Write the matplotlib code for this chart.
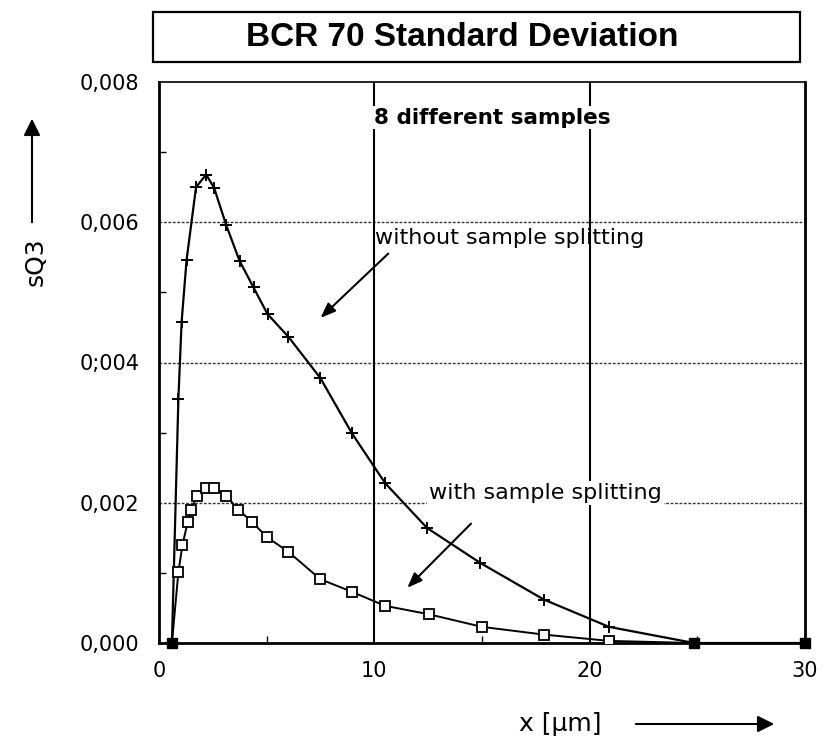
import matplotlib
matplotlib.use("Agg")
import matplotlib.pyplot as plt
from matplotlib.patches import Rectangle, FancyArrowPatch
from matplotlib.ticker import FixedLocator

# ---- data ----
title = "BCR 70 Standard Deviation"
x_without = [0.9, 1.05, 1.28, 1.72, 2.19, 2.56, 3.12, 3.74, 4.39, 5.04, 6.0,
             7.49, 8.96, 10.5, 12.45, 14.93, 17.87, 20.9]
y_without = [0.00348, 0.00458, 0.00546, 0.0065, 0.00668, 0.00649, 0.00596,
             0.00545, 0.00507, 0.00469, 0.00437, 0.00378, 0.00299, 0.00228,
             0.00164, 0.00114, 0.00062, 0.00023]
x_with = [0.9, 1.09, 1.33, 1.47, 1.78, 2.19, 2.57, 3.12, 3.69, 4.34, 5.01,
          6.01, 7.49, 8.96, 10.5, 12.53, 15.0, 17.87, 20.9]
y_with = [0.00101, 0.0014, 0.00172, 0.00189, 0.0021, 0.00221, 0.00221,
          0.0021, 0.0019, 0.00172, 0.00151, 0.0013, 0.00091, 0.00073,
          0.00053, 0.00041, 0.00023, 0.00012, 0.00003]
x_ends = [0.6, 24.85, 30.0]
y_ends = [0.0, 0.0, 0.0]
x_ticks = [0, 10, 20, 30]
x_ticklabels = ["0", "10", "20", "30"]
y_ticks = [0.0, 0.002, 0.004, 0.006, 0.008]
y_ticklabels = ["0,000", "0,002", "0;004", "0,006", "0,008"]

plt.rcParams['font.family'] = ['DejaVu Sans']

W, H = 833, 743
fig = plt.figure(figsize=(W / 100, H / 100), dpi=100)
L, R, T, B = 159, 805, 82, 643
ax = fig.add_axes([L / W, 1 - B / H, (R - L) / W, (B - T) / H])
ax.set_xlim(0, 30)
ax.set_ylim(0, 0.008)

# grid
for yv in [0.002, 0.004, 0.006]:
    ax.axhline(yv, color="#333333", lw=1.0, ls=(0, (2, 1.2)), zorder=1)
for xv in [10, 20]:
    ax.axvline(xv, color="black", lw=1.5, zorder=1)

# curves (full series incl. end points)
ax.plot([x_ends[0]] + x_without + x_ends[1:], [y_ends[0]] + y_without + y_ends[1:],
        color="black", lw=1.6, zorder=3)
ax.plot(x_without, y_without, ls="none", marker="+", ms=8, mew=1.4,
        color="black", zorder=4)
ax.plot([x_ends[0]] + x_with + [x_ends[1]], [y_ends[0]] + y_with + [y_ends[1]],
        color="black", lw=1.4, zorder=3)
ax.plot(x_with, y_with, ls="none", marker="s", ms=7, mew=1.3,
        mfc="white", mec="black", zorder=4)
ax.plot(x_ends, y_ends, ls="none", marker="s", ms=7, color="black", zorder=5,
        clip_on=False)

# spines / ticks
for s in ["left", "bottom", "right"]:
    ax.spines[s].set_linewidth(2.0)
ax.spines["top"].set_linewidth(1.2)
ax.set_xticks(x_ticks)
ax.set_xticklabels(x_ticklabels, fontsize=15)
ax.set_yticks(y_ticks)
ax.set_yticklabels(y_ticklabels, fontsize=15)
ax.xaxis.set_minor_locator(FixedLocator([5, 15, 25]))
ax.yaxis.set_minor_locator(FixedLocator([0.001, 0.003, 0.005, 0.007]))
ax.tick_params(axis="both", which="major", length=0)
ax.tick_params(axis="x", which="major", pad=13)
ax.tick_params(axis="y", which="major", pad=14)
ax.tick_params(axis="both", which="minor", direction="in", length=5, width=1)

# annotations
ax.text(10.0, 0.00749, "8 different samples", fontsize=15.5, fontweight="bold",
        va="center", ha="left", zorder=6,
        bbox=dict(facecolor="white", edgecolor="none", pad=1))
ax.text(10.05, 0.00578, "without sample splitting", fontsize=16,
        va="center", ha="left", zorder=6)
ax.text(12.56, 0.00214, "with sample splitting", fontsize=16,
        va="center", ha="left", zorder=6,
        bbox=dict(facecolor="white", edgecolor="none", pad=1.5))
ax.annotate("", xy=(7.41, 0.00461), xytext=(10.74, 0.00558),
            arrowprops=dict(arrowstyle="-|>,head_length=0.9,head_width=0.35",
                            color="black", lw=1.5), zorder=6)
ax.annotate("", xy=(11.44, 0.00076), xytext=(14.58, 0.00173),
            arrowprops=dict(arrowstyle="-|>,head_length=0.9,head_width=0.35",
                            color="black", lw=1.5), zorder=6)

# title box
fig.patches.append(Rectangle((153 / W, 1 - 62 / H), (800 - 153) / W, 50 / H,
                             transform=fig.transFigure, fill=False,
                             edgecolor="black", lw=1.6))
fig.text(462 / W, 1 - 37 / H, title, fontsize=24, fontweight="bold",
         family=["Liberation Sans", "DejaVu Sans"], ha="center", va="center")

# axis labels with arrows
fig.text(36 / W, 1 - 262 / H, "sQ3", fontsize=18, rotation=90,
         ha="center", va="center")
fig.patches.append(FancyArrowPatch((32 / W, 1 - 225 / H), (32 / W, 1 - 116 / H),
                                   transform=fig.transFigure,
                                   arrowstyle="-|>,head_length=10,head_width=5",
                                   color="black", lw=1.5))
fig.text(560 / W, 1 - 724 / H, "x [µm]", fontsize=18, ha="center", va="center")
fig.patches.append(FancyArrowPatch((633 / W, 1 - 724 / H), (777 / W, 1 - 724 / H),
                                   transform=fig.transFigure,
                                   arrowstyle="-|>,head_length=10,head_width=5",
                                   color="black", lw=1.5))

fig.savefig("out.png", dpi=100)
